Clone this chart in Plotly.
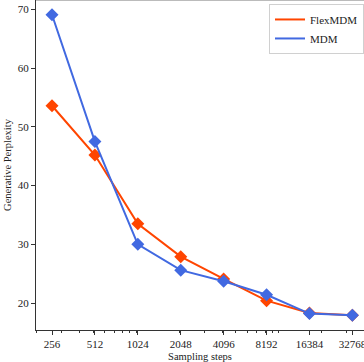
import plotly.graph_objects as go

steps = [256, 512, 1024, 2048, 4096, 8192, 16384, 32768]
step_labels = [str(s) for s in steps]
flex_ppl = [53.6, 45.2, 33.5, 27.9, 24.1, 20.4, 18.3, 17.9]
mdm_ppl = [69.1, 47.5, 30.0, 25.6, 23.7, 21.4, 18.2, 17.9]

FONT = "Liberation Serif"
series = [("FlexMDM", flex_ppl, "#FF4500"), ("MDM", mdm_ppl, "#4169E1")]
fig = go.Figure()
for name, vals, col in series:
    fig.add_trace(go.Scatter(x=steps, y=vals, name=name, mode="lines+markers",
                             showlegend=False, legendgroup=name,
                             line=dict(color=col, width=2),
                             marker=dict(symbol="diamond", size=10, color=col)))
for name, vals, col in series:
    fig.add_trace(go.Scatter(x=[None], y=[None], name=name, mode="lines",
                             legendgroup=name, line=dict(color=col, width=2)))

fig.update_layout(
    width=364, height=362,
    margin=dict(l=36, r=0, t=0, b=32),
    plot_bgcolor="white", paper_bgcolor="white",
    font=dict(family=FONT, size=10, color="#222"),
    showlegend=True,
    legend=dict(x=1.0, y=0.988, xanchor="right", yanchor="top",
                bordercolor="#d0d0d0", borderwidth=1, bgcolor="white",
                font=dict(family=FONT, size=11), itemwidth=30,
                tracegroupgap=0),
    xaxis=dict(type="log", range=[2.296, 4.597], automargin=False,
               tickvals=steps, ticktext=step_labels, ticklabeloverflow="allow",
               ticks="outside", ticklen=4, tickwidth=1, tickcolor="#333",
               showline=True, linecolor="#333", linewidth=1.2,
               showgrid=False, zeroline=False,
               tickfont=dict(size=11),
               minor=dict(ticks="outside", ticklen=2, tickcolor="#333", dtick="D1", showgrid=False),
               title=dict(text="Sampling steps", font=dict(size=10.5), standoff=3)),
    yaxis=dict(range=[15.4, 71.62], tickvals=[20, 30, 40, 50, 60, 70], automargin=False,
               ticks="outside", ticklen=4, tickwidth=1, tickcolor="#333",
               showline=True, linecolor="#333", linewidth=1.2,
               showgrid=False, zeroline=False,
               tickfont=dict(size=11),
               title=dict(text="Generative Perplexity", font=dict(size=10.5), standoff=4)),
    shapes=[dict(type="line", xref="paper", yref="paper", x0=0, x1=1, y0=1, y1=1,
                 line=dict(color="#bbbbbb", width=2))],
)
fig.write_html("out.html", config={"displayModeBar": False},
               post_script="document.body.style.margin='0';document.body.style.overflow='hidden';")
